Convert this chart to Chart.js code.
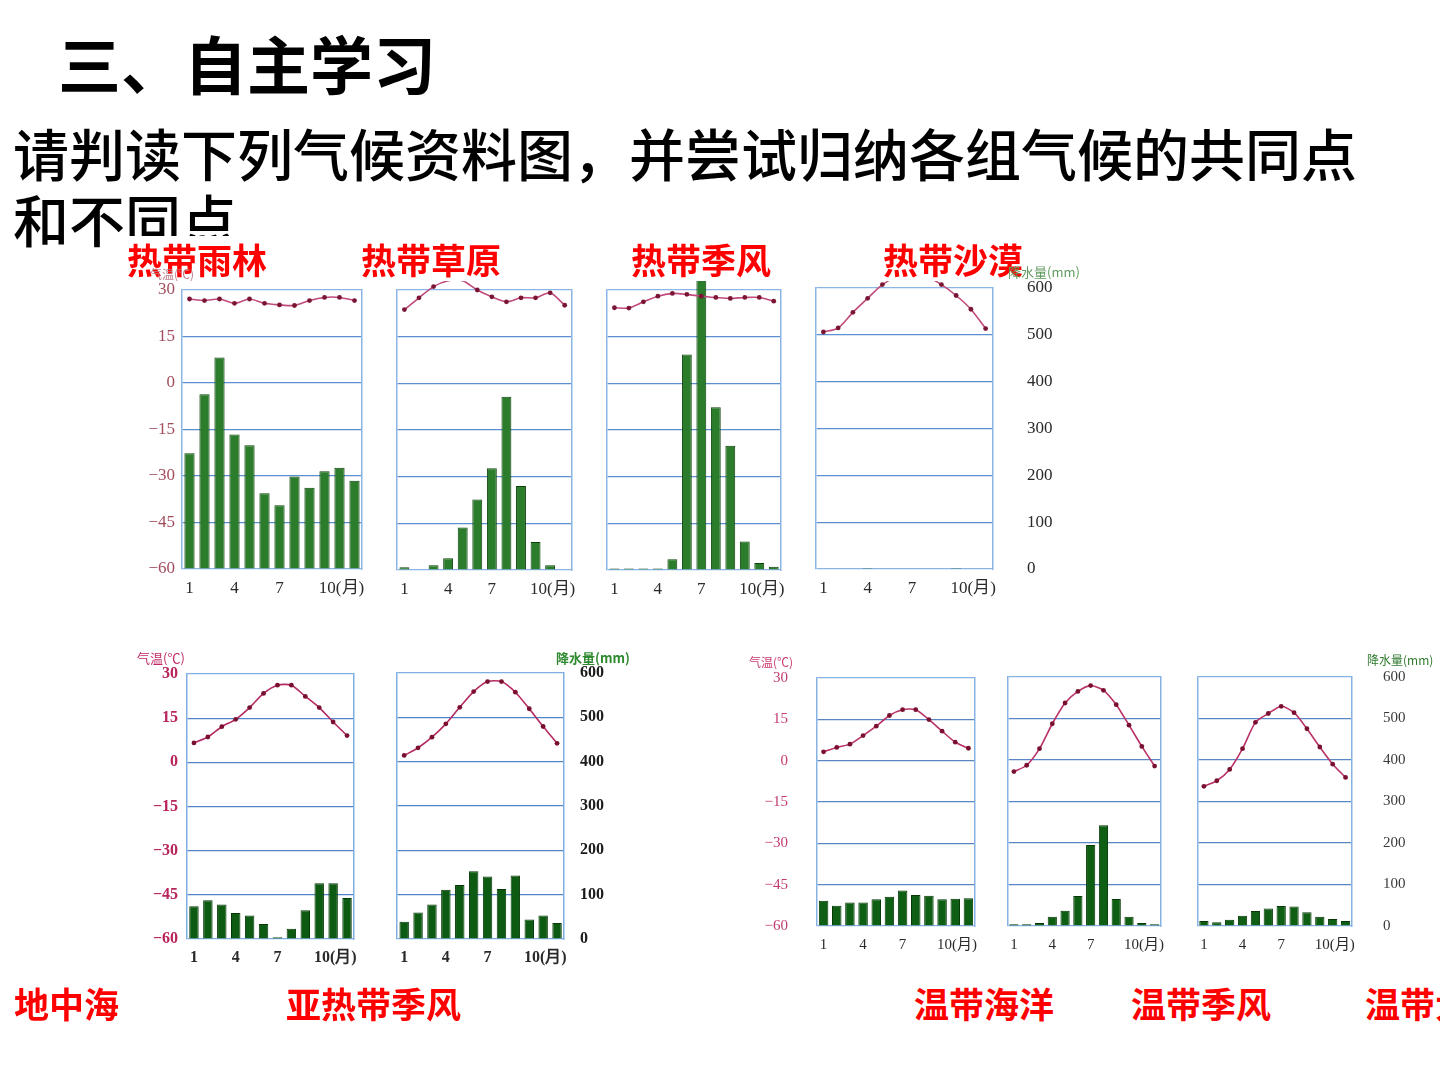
<!DOCTYPE html>
<html lang="zh-CN">
<head>
<meta charset="utf-8">
<title>气候资料图</title>
<script src="https://cdn.jsdelivr.net/npm/chart.js@4.4.1/dist/chart.umd.min.js"></script>
<style>
  html, body { margin: 0; padding: 0; background: #fff; }
  body { width: 1440px; height: 1080px; overflow: hidden; position: relative; font-family: "Noto Sans CJK SC", sans-serif; }
  .txt { position: absolute; white-space: nowrap; line-height: 1; color: #000; }
  .title { left: 58px; top: 30px; font-size: 63px; font-weight: 700; }
  .sub { left: 13px; font-size: 56px; font-weight: 500; }
  .zone { position: absolute; white-space: nowrap; color: #ff0000; font-size: 35px; font-weight: 700; line-height: 45px; height: 45px; background: #fff; z-index: 3; padding: 0 4px; }
  .axt { position: absolute; white-space: nowrap; font-size: 12px; line-height: 1; z-index: 4; }
  canvas { position: absolute; z-index: 1; }
</style>
</head>
<body>
<div class="txt title">三、自主学习</div>
<div class="txt sub" style="top:124px">请判读下列气候资料图，并尝试归纳各组气候的共同点</div>
<div class="txt sub" style="top:190px">和不同点</div>

<div class="zone" style="left:123px;top:236px">热带雨林</div>
<div class="zone" style="left:357px;top:236px">热带草原</div>
<div class="zone" style="left:627px;top:236px">热带季风</div>
<div class="zone" style="left:879px;top:236px">热带沙漠</div>

<div class="zone" style="left:10px;top:980px">地中海</div>
<div class="zone" style="left:282px;top:980px">亚热带季风</div>
<div class="zone" style="left:910px;top:980px">温带海洋</div>
<div class="zone" style="left:1127px;top:980px">温带季风</div>
<div class="zone" style="left:1361px;top:980px">温带大陆性</div>

<div class="axt" style="left:150px;top:268px;color:#c0808e">气温(℃)</div>
<div class="axt" style="left:1008px;top:265px;color:#5f9a5f;font-size:13px">降水量(mm)</div>
<div class="axt" style="left:137px;top:651px;color:#c02a66;font-size:13px">气温(℃)</div>
<div class="axt" style="left:556px;top:651px;color:#2f8a2f;font-size:13px;font-weight:700">降水量(mm)</div>
<div class="axt" style="left:749px;top:656px;color:#c83a70;font-size:12px">气温(℃)</div>
<div class="axt" style="left:1367px;top:654px;color:#2f7a2f;font-size:12px">降水量(mm)</div>

<script>
// months on the x axis, only some get a label
const months = ['1', '2', '3', '4', '5', '6', '7', '8', '9', '10', '11', '12'];
const monthTicks = { 0: '1', 3: '4', 6: '7', 9: '\u2003\u200310(月)' };

// axis ranges: temperature (left), precipitation (right)
const tempMin = -60, tempMax = 30, tempStep = 15;
const rainMin = 0, rainMax = 600, rainStep = 100;

// top row
const rainforestTemp = [27.1, 26.6, 27.1, 25.7, 27.1, 25.7, 25.2, 25.0, 26.6, 27.6, 27.6, 26.6];
const rainforestRain = [249, 376, 455, 289, 266, 163, 137, 199, 175, 210, 218, 190];
const savannaTemp = [23.7, 27.5, 31.1, 33.0, 33.0, 30.0, 27.8, 26.2, 27.5, 27.5, 29.1, 25.1];
const savannaRain = [6, 0, 10, 25, 91, 151, 218, 371, 180, 60, 10, 0];
const tropMonsoonTemp = [24.3, 24.2, 26.2, 28.0, 28.9, 28.6, 28.0, 27.6, 27.3, 27.6, 27.6, 26.4];
const tropMonsoonRain = [3, 3, 3, 3, 23, 462, 640, 349, 266, 61, 15, 7];
const desertTemp = [15.9, 17.2, 22.2, 26.7, 31.1, 33.5, 34.0, 33.5, 31.1, 27.6, 23.2, 17.0];
const desertRain = [0, 0, 0, 2, 0, 0, 0, 0, 0, 2, 0, 0];

// bottom row
const medTemp = [6.6, 8.6, 12.1, 14.6, 18.6, 23.4, 26.2, 26.2, 22.4, 18.6, 13.7, 9.1];
const medRain = [74, 88, 78, 59, 53, 34, 4, 23, 65, 126, 126, 93];
const subMonsoonTemp = [2.1, 4.7, 8.3, 12.8, 18.4, 23.7, 27.1, 27.1, 23.5, 17.9, 11.9, 6.2];
const subMonsoonRain = [39, 60, 78, 111, 122, 153, 141, 113, 143, 44, 53, 36];
const maritimeTemp = [3.2, 4.8, 6.0, 9.1, 12.5, 16.4, 18.5, 18.5, 14.9, 10.7, 6.7, 4.5];
const maritimeRain = [61, 49, 57, 57, 65, 71, 86, 75, 73, 65, 66, 67];
const tempMonsoonTemp = [-4.2, -1.9, 4.1, 13.1, 20.6, 24.8, 26.9, 25.2, 20.0, 12.6, 4.9, -2.2];
const tempMonsoonRain = [4, 4, 7, 22, 37, 72, 195, 243, 65, 22, 7, 4];
const continentalTemp = [-9.5, -7.5, -3.4, 4.1, 13.6, 16.8, 19.4, 17.1, 11.3, 4.7, -1.5, -6.3];
const continentalRain = [12, 9, 15, 25, 36, 42, 48, 47, 33, 22, 17, 12];

const topStyle = {
  bar: '#2b7c2b', barEdge: '#0b400b', line: '#c04a7c', dot: '#7a1634',
  grid: '#5b8fd0', frame: '#8ab5e5', tempTick: '#a24d5c', rainTick: '#2a2a2a',
  fs: 17, bold: false, xPad: 9, barPct: 0.68
};
const leftStyle = {
  bar: '#0d5a12', barEdge: '#063806', line: '#b42a62', dot: '#7a1030',
  grid: '#4f84c8', frame: '#7eaee2', tempTick: '#b8245c', rainTick: '#1a1a1a',
  fs: 16, bold: true, xPad: 9, barPct: 0.68
};
const rightStyle = {
  bar: '#0e5e14', barEdge: '#063806', line: '#b83268', dot: '#7a1030',
  grid: '#5a87c4', frame: '#86b3e3', tempTick: '#c43a72', rainTick: '#3a3a3a',
  fs: 15, bold: false, xPad: 10, barPct: 0.72
};

function makeChart(spec) {
  const s = spec.style;
  const [bx, by, bw, bh] = spec.box;
  const padL = spec.leftGap != null ? 70 : 2;
  const padR = spec.rightGap != null ? 80 : 2;
  // room above/below the plot box; must exceed half a label plus the tick padding
  const padT = 50, padB = 50;

  const cv = document.createElement('canvas');
  cv.width = bw + padL + padR;
  cv.height = bh + padT + padB;
  cv.style.left = (bx - padL) + 'px';
  cv.style.top = (by - padT) + 'px';
  document.body.appendChild(cv);

  const font = {
    family: '"Liberation Serif", "DejaVu Serif", serif',
    size: s.fs,
    weight: s.bold ? 'bold' : 'normal'
  };

  new Chart(cv, {
    data: {
      labels: months,
      datasets: [
        {
          type: 'line', data: spec.temp, yAxisID: 'yT',
          borderColor: s.line, borderWidth: 1.6, tension: 0.25,
          pointRadius: 2.4, pointBackgroundColor: s.dot, pointBorderWidth: 0,
          clip: false, order: 0
        },
        {
          type: 'bar', data: spec.rain, yAxisID: 'yP',
          backgroundColor: s.bar, borderColor: s.barEdge, borderWidth: 1,
          barPercentage: s.barPct, categoryPercentage: 1,
          clip: false, order: 1
        }
      ]
    },
    options: {
      responsive: false,
      animation: false,
      devicePixelRatio: 1,
      layout: { padding: { top: padT, left: 0, right: 0, bottom: 0 } },
      plugins: { legend: { display: false }, tooltip: { enabled: false } },
      scales: {
        x: {
          grid: { display: false, drawTicks: false },
          border: { display: false },
          ticks: {
            autoSkip: false, maxRotation: 0, padding: s.xPad,
            color: '#2a2a2a', font: font,
            callback: (v, i) => monthTicks[i] || ''
          },
          afterFit: a => { a.height = padB; }
        },
        yT: {
          position: 'left', min: tempMin, max: tempMax,
          grid: {
            drawTicks: false, lineWidth: 1.3,
            color: c => (c.tick && (c.tick.value === tempMax || c.tick.value === tempMin)) ? s.frame : s.grid
          },
          border: { color: s.frame, width: 1.5 },
          ticks: {
            stepSize: tempStep, display: spec.leftGap != null,
            padding: spec.leftGap || 0, color: s.tempTick, font: font,
            callback: v => String(v).replace('-', '\u2212')
          },
          afterFit: a => { a.width = padL; }
        },
        yP: {
          position: 'right', min: rainMin, max: rainMax,
          grid: { drawOnChartArea: false, drawTicks: false },
          border: { color: s.frame, width: 1.5 },
          ticks: {
            stepSize: rainStep, display: spec.rightGap != null,
            padding: spec.rightGap || 0, color: s.rainTick, font: font
          },
          afterFit: a => { a.width = padR; }
        }
      }
    }
  });
}

const charts = [
  { box: [182, 290, 182, 279], temp: rainforestTemp, rain: rainforestRain, style: topStyle, leftGap: 7 },
  { box: [393, 290, 181, 280], temp: savannaTemp, rain: savannaRain, style: topStyle },
  { box: [603, 290, 180, 280], temp: tropMonsoonTemp, rain: tropMonsoonRain, style: topStyle },
  { box: [812, 288, 181, 281], temp: desertTemp, rain: desertRain, style: topStyle, rightGap: 34 },
  { box: [187, 674, 169, 265], temp: medTemp, rain: medRain, style: leftStyle, leftGap: 9 },
  { box: [393, 673, 171, 266], temp: subMonsoonTemp, rain: subMonsoonRain, style: leftStyle, rightGap: 16 },
  { box: [817, 678, 160, 248], temp: maritimeTemp, rain: maritimeRain, style: rightStyle, leftGap: 29 },
  { box: [1002, 677, 161, 249], temp: tempMonsoonTemp, rain: tempMonsoonRain, style: rightStyle },
  { box: [1192, 677, 160, 249], temp: continentalTemp, rain: continentalRain, style: rightStyle, rightGap: 31 }
];

charts.forEach(makeChart);
</script>
</body>
</html>
